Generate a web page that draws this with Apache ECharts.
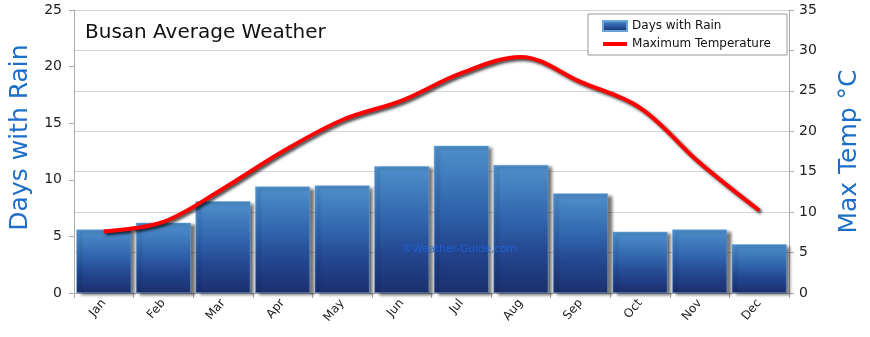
<!DOCTYPE html>
<html><head><meta charset="utf-8">
<script src="https://cdn.jsdelivr.net/npm/echarts@6/dist/echarts.min.js"></script>
<style>html,body{margin:0;padding:0;background:#fff}#c{width:870px;height:337px}</style>
</head><body><div id="c"></div>
<script>
var months = ['Jan','Feb','Mar','Apr','May','Jun','Jul','Aug','Sep','Oct','Nov','Dec'];
var rainDays = [5.6, 6.2, 8.1, 9.4, 9.5, 11.2, 13.0, 11.3, 8.8, 5.4, 5.6, 4.3];
var maxTemp = [7.6, 8.8, 12.9, 17.5, 21.4, 23.8, 27.2, 29.2, 26.1, 22.9, 16.1, 10.2];
var FONT = 'DejaVu Sans';
var chart = echarts.init(document.getElementById('c'));
chart.setOption({
  animation: false,
  textStyle: {fontFamily: FONT},
  title: {text: 'Busan Average Weather', left: 80, top: 18,
    textStyle: {fontFamily: FONT, fontSize: 20, fontWeight: 'normal', color: '#111'}},
  legend: {
    right: 83, top: 14, orient: 'vertical', itemGap: 6,
    backgroundColor: '#fff', borderColor: '#999', borderWidth: 1, padding: [6, 16, 5, 14],
    itemWidth: 24, itemHeight: 10,
    textStyle: {fontFamily: FONT, fontSize: 12, color: '#111'},
    data: [{name: 'Days with Rain', icon: 'rect'},
           {name: 'Maximum Temperature', icon: 'path://M0,3 L24,3 L24,7 L0,7 Z', itemStyle: {color: '#ff0000'}}]
  },
  grid: {left: 74, right: 79, top: 10, bottom: 44},
  xAxis: {
    type: 'category', data: months,
    axisLine: {lineStyle: {color: '#aaa'}},
    axisTick: {show: true, length: 5, lineStyle: {color: '#aaa'}},
    axisLabel: {rotate: 50, fontSize: 12, color: '#222', margin: 8, fontFamily: FONT}
  },
  yAxis: [{
    type: 'value', min: 0, max: 25, interval: 5,
    name: 'Days with Rain', nameLocation: 'middle', nameGap: 36,
    nameTextStyle: {fontSize: 25, color: '#1d6ec6', fontFamily: FONT, padding: [0, 0, 0, 28]},
    axisLine: {show: true, lineStyle: {color: '#aaa'}},
    axisTick: {show: true, length: 5, lineStyle: {color: '#aaa'}},
    axisLabel: {fontSize: 14, color: '#222', margin: 12, fontFamily: FONT},
    splitLine: {show: false}
  }, {
    type: 'value', min: 0, max: 35, interval: 5, position: 'right',
    name: 'Max Temp °C', nameLocation: 'middle', nameGap: 48,
    nameTextStyle: {fontSize: 25, color: '#1d6ec6', fontFamily: FONT},
    axisLine: {show: true, lineStyle: {color: '#aaa'}},
    axisTick: {show: true, length: 5, lineStyle: {color: '#aaa'}},
    axisLabel: {fontSize: 14, color: '#222', margin: 10, fontFamily: FONT},
    splitLine: {show: true, lineStyle: {color: '#d4d4d4'}}
  }],
  series: [{
    name: 'Days with Rain', type: 'bar', data: rainDays, yAxisIndex: 0,
    barCategoryGap: '8%',
    itemStyle: {
      color: new echarts.graphic.LinearGradient(0, 0, 0, 1, [
        {offset: 0, color: '#4f90cc'}, {offset: 0.45, color: '#2f62ab'},
        {offset: 0.7, color: '#23468f'}, {offset: 1, color: '#1c2f6e'}]),
      borderColor: '#6aa3d6', borderWidth: 0.5,
      shadowColor: 'rgba(0,0,0,0.55)', shadowBlur: 3, shadowOffsetX: 4, shadowOffsetY: 2
    }
  }, {
    name: 'Maximum Temperature', type: 'line', data: maxTemp, yAxisIndex: 1,
    smooth: 0.35, symbol: 'none', color: '#ff0000', z: 5,
    lineStyle: {width: 4, color: '#ff0000', shadowColor: 'rgba(0,0,0,0.75)', shadowBlur: 3, shadowOffsetX: 2, shadowOffsetY: 2}
  }],
  graphic: [{
    type: 'text', left: 402, top: 244, z: 100,
    style: {text: '©Weather-Guide.com', fontSize: 10.5, fill: 'rgba(30,100,225,0.85)', fontFamily: FONT}
  }]
});
</script></body></html>
